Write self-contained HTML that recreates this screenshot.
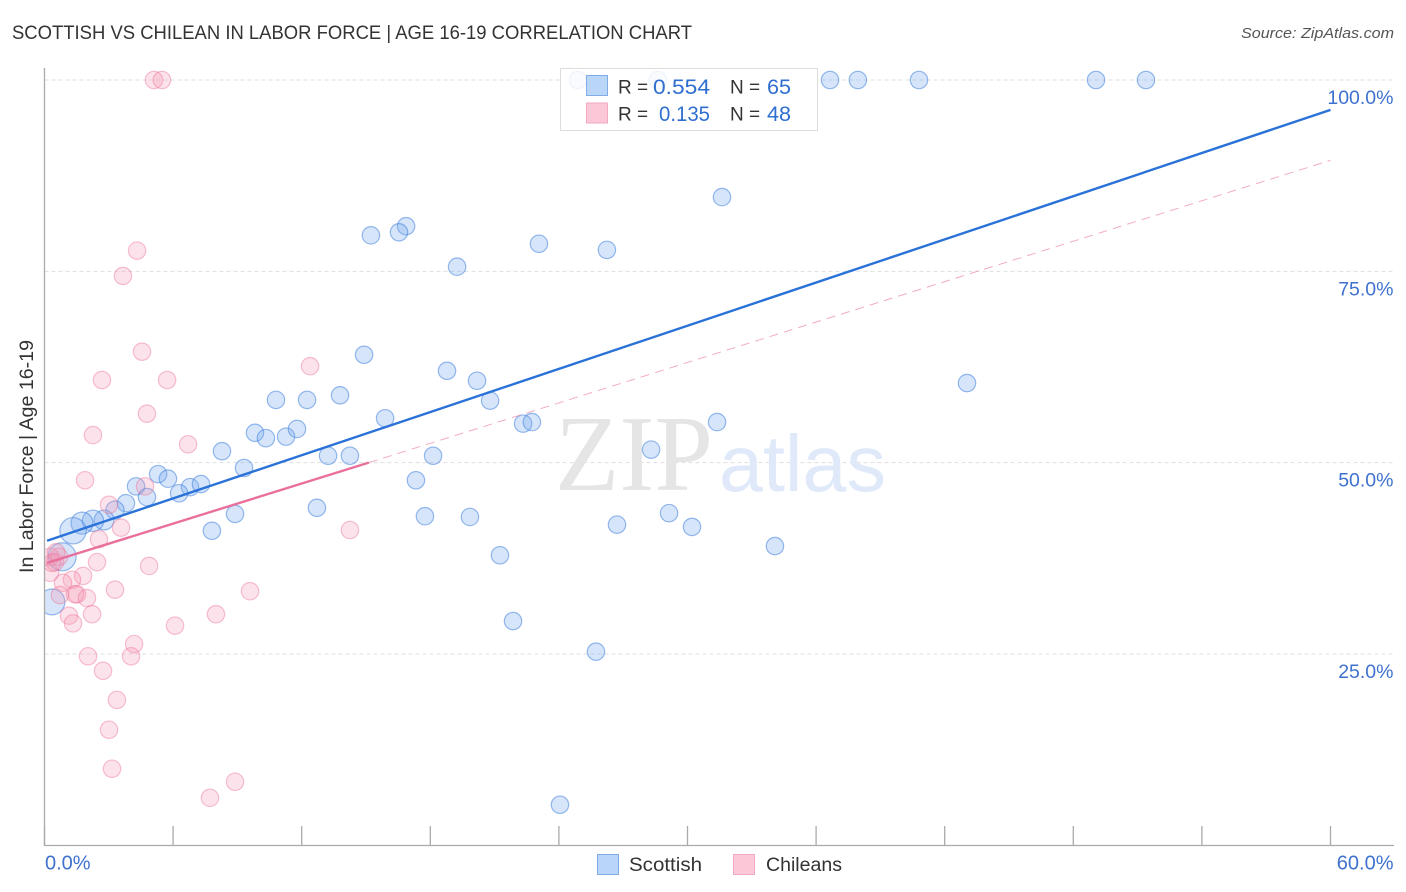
<!DOCTYPE html>
<html lang="en">
<head>
<meta charset="utf-8">
<title>Scottish vs Chilean in Labor Force | Age 16-19 Correlation Chart</title>
<style>
html,body{margin:0;padding:0;background:#fff;}
body{width:1406px;height:892px;overflow:hidden;}
svg{display:block;font-family:"Liberation Sans",sans-serif;}
</style>
</head>
<body>
<svg id="chart" width="1406" height="892" viewBox="0 0 1406 892" xmlns="http://www.w3.org/2000/svg">
  <defs>
    <clipPath id="plot-clip"><rect x="45" y="60" width="1349" height="785"/></clipPath>
  </defs>
  <rect x="0" y="0" width="1406" height="892" fill="#ffffff"/>
  <text x="12" y="39" font-size="19" fill="#333333" textLength="680" lengthAdjust="spacingAndGlyphs">SCOTTISH VS CHILEAN IN LABOR FORCE | AGE 16-19 CORRELATION CHART</text>
  <text x="1241" y="38" font-size="15" font-style="italic" fill="#555555" textLength="153" lengthAdjust="spacingAndGlyphs">Source: ZipAtlas.com</text>
  <g id="grid"></g>
  <g>
    <text x="555" y="490" font-size="108" font-family="'Liberation Serif',serif" fill="#e5e5e5" textLength="158" lengthAdjust="spacingAndGlyphs">ZIP</text>
    <text x="719" y="491" font-size="80" fill="#dfe9f9" textLength="167" lengthAdjust="spacingAndGlyphs">atlas</text>
  </g>
  <g id="points-blue" clip-path="url(#plot-clip)"></g>
  <g id="points-pink" clip-path="url(#plot-clip)"></g>
  <g id="trends"></g>
  <g id="axes"></g>
  <text transform="translate(33,573) rotate(-90)" font-size="19" fill="#333333" textLength="233" lengthAdjust="spacingAndGlyphs">In Labor Force | Age 16-19</text>

  <g>
    <rect x="560.5" y="68.5" width="257" height="62" fill="#ffffff" fill-opacity="0.85" stroke="#dddddd"/>
    <rect x="586.5" y="75.5" width="21" height="20" fill="#b9d5f8" stroke="#7fabe6"/>
    <rect x="586.5" y="103" width="21" height="20" fill="#fcc8d8" stroke="#f3a9c0"/>
    <text x="618" y="93.500" font-size="19" fill="#333333">R =</text>
    <text x="653" y="94" font-size="21" fill="#2f6fd0" textLength="57" lengthAdjust="spacingAndGlyphs">0.554</text>
    <text x="730" y="93.500" font-size="19" fill="#333333">N =</text>
    <text x="767" y="94" font-size="21" fill="#2f6fd0" textLength="24" lengthAdjust="spacingAndGlyphs">65</text>
    <text x="618" y="120.500" font-size="19" fill="#333333">R =</text>
    <text x="659" y="121" font-size="21" fill="#2f6fd0" textLength="51" lengthAdjust="spacingAndGlyphs">0.135</text>
    <text x="730" y="120.500" font-size="19" fill="#333333">N =</text>
    <text x="767" y="121" font-size="21" fill="#2f6fd0" textLength="24" lengthAdjust="spacingAndGlyphs">48</text>
  </g>

  <g>
    <g>
      <rect x="597.5" y="854.5" width="21" height="20" fill="#b9d5f8" stroke="#7fabe6"/>
      <text x="629" y="871" font-size="19" fill="#333333" textLength="73" lengthAdjust="spacingAndGlyphs">Scottish</text>
    </g>
    <g>
      <rect x="733.5" y="854.5" width="21" height="20" fill="#fcc8d8" stroke="#f3a9c0"/>
      <text x="766" y="871" font-size="19" fill="#333333" textLength="76" lengthAdjust="spacingAndGlyphs">Chileans</text>
    </g>
  </g>
</svg>

<script>
// ---- chart data (percent values) ----
const scottishX = [24.89,28.62,36.65,37.95,40.80,49.06,51.39,31.61,16.87,16.54,15.23,23.07,26.24,19.25,14.91,18.78,20.18,43.04,13.79,10.80,12.25,20.79,15.89,22.33,22.74,31.38,9.82,10.33,11.27,11.78,8.28,28.30,13.23,14.25,18.13,9.31,5.30,5.76,17.33,4.27,6.79,7.30,6.28,4.78,3.80,12.71,3.29,8.89,29.14,17.75,19.85,2.78,2.26,1.75,26.71,30.21,1.33,7.81,34.08,21.25,0.82,0.35,21.86,25.73,24.05];
const scottishY = [100,100,100,100,100,100,100,84.7,80.9,80.1,79.7,78.6,77.8,75.6,64.1,62.0,60.7,60.4,58.8,58.2,58.2,58.1,55.8,55.1,55.3,55.3,53.9,53.2,53.4,54.4,51.5,51.7,50.9,50.9,50.9,49.3,48.5,47.9,47.7,46.9,46.8,47.2,46.0,45.5,44.7,44.1,43.8,43.3,43.4,43.0,42.9,42.5,42.4,42.1,41.9,41.6,41.1,41.1,39.1,37.9,37.7,31.8,29.3,25.3,5.3];
const scottishWeight = [1,1,1,1,1,1,1,1,1,1,1,1,1,1,1,1,1,1,1,1,1,1,1,1,1,1,1,1,1,1,1,1,1,1,1,1,1,1,1,1,1,1,1,1,1,1,1.1,1,1,1,1,1.3,1.5,1.6,1,1,2.3,1,1,1,2.6,2.2,1,1,1];
const chileanX = [5.11,5.48,4.32,3.66,4.55,12.39,2.68,5.72,4.78,2.26,6.70,1.89,4.69,3.01,3.57,14.25,2.54,2.45,4.88,1.80,1.28,0.86,3.29,9.59,1.52,1.42,1.98,0.72,2.22,8.00,1.14,1.33,6.09,4.18,4.04,2.03,2.73,0.26,0.26,0.68,0.49,0.35,0.54,3.38,3.01,3.15,8.89,7.72];
const chileanY = [100,100,77.7,74.4,64.5,62.6,60.8,60.8,56.4,53.6,52.4,47.7,46.9,44.5,41.5,41.2,40.0,37.0,36.5,35.2,34.7,34.3,33.4,33.2,32.8,32.8,32.3,32.7,30.2,30.2,30.0,29.0,28.7,26.3,24.7,24.7,22.8,35.6,37.7,37.7,37.0,36.9,38.3,19.0,15.1,10.0,8.3,6.2];
const scottishTrendX = [0.12,60];
const scottishTrendY = [39.8,96.1];
const chileanTrendX = [0.12,15.13];
const chileanTrendY = [36.9,50.0];
const chileanProjectionX = [15.13,60];
const chileanProjectionY = [50.0,89.5];
const yGridValues = [25,50,75,100];
const yTickLabels = ['25.0%','50.0%','75.0%','100.0%'];
const xTickValues = [0,6,12,18,24,30,36,42,48,54,60];
const xEndValues = [0,60];
const xEndLabels = ['0.0%','60.0%'];

// ---- axis functions ----
const NS = 'http://www.w3.org/2000/svg';
function xScale(v){ return 44.5 + v * (1286 / 60); }
function yScale(v){ return 845.3 - v * 7.653; }
function rScale(w){ return 8.7 * Math.sqrt(w); }
function make(tag, attrs, parent){
  const el = document.createElementNS(NS, tag);
  for (const k in attrs) el.setAttribute(k, attrs[k]);
  parent.appendChild(el);
  return el;
}

const grid = document.getElementById('grid');
const axes = document.getElementById('axes');
const blue = document.getElementById('points-blue');
const pink = document.getElementById('points-pink');
const trends = document.getElementById('trends');

yGridValues.forEach(function(v, i){
  const line = make('line', {x1:44.5, x2:1394, y1:yScale(v), y2:yScale(v), stroke:'#dfdfdf', 'stroke-width':1, 'stroke-dasharray':'4 3'}, grid);
  
  
  const label = make('text', {x:1393.5, y:yScale(v) + 24, 'text-anchor':'end', 'font-size':19.5, fill:'#3f72cf'}, axes);
  label.textContent = yTickLabels[i];
  
  
});

const yAxisLine = make('line', {x1:44.5, x2:44.5, y1:68, y2:846, stroke:'#aaaaaa', 'stroke-width':1.3}, axes);


const xAxisLine = make('line', {x1:44, x2:1394, y1:845.5, y2:845.5, stroke:'#aaaaaa', 'stroke-width':1.3}, axes);



xTickValues.forEach(function(v){
  const tick = make('line', {x1:xScale(v), x2:xScale(v), y1:826, y2:845.5, stroke:'#aaaaaa', 'stroke-width':1.3}, axes);
  
  
});

xEndValues.forEach(function(v, i){
  const label = make('text', {x: i === 0 ? xScale(v) + 0.5 : 1393.5, y:869.5, 'text-anchor': i === 0 ? 'start' : 'end', 'font-size':20, fill:'#3f72cf'}, axes);
  label.textContent = xEndLabels[i];
  
  
});

scottishX.forEach(function(v, i){
  const c = make('circle', {cx:xScale(v), cy:yScale(scottishY[i]), r:rScale(scottishWeight[i]), fill:'rgba(120,170,240,0.30)', stroke:'rgba(60,125,220,0.52)', 'stroke-width':1.2}, blue);
  
  
});

chileanX.forEach(function(v, i){
  const c = make('circle', {cx:xScale(v), cy:yScale(chileanY[i]), r:rScale(1), fill:'rgba(245,150,178,0.28)', stroke:'rgba(235,110,150,0.42)', 'stroke-width':1.2}, pink);
  
  
});

const projection = make('line', {x1:xScale(chileanProjectionX[0]), y1:yScale(chileanProjectionY[0]), x2:xScale(chileanProjectionX[1]), y2:yScale(chileanProjectionY[1]), stroke:'#eb7fa3', 'stroke-width':1, 'stroke-opacity':0.65, 'stroke-dasharray':'9 6'}, trends);


const pinkTrend = make('line', {x1:xScale(chileanTrendX[0]), y1:yScale(chileanTrendY[0]), x2:xScale(chileanTrendX[1]), y2:yScale(chileanTrendY[1]), stroke:'#e9709c', 'stroke-width':2.4}, trends);


const blueTrend = make('line', {x1:xScale(scottishTrendX[0]), y1:yScale(scottishTrendY[0]), x2:xScale(scottishTrendX[1]), y2:yScale(scottishTrendY[1]), stroke:'#2a72d8', 'stroke-width':2.4}, trends);


</script>
</body>
</html>
